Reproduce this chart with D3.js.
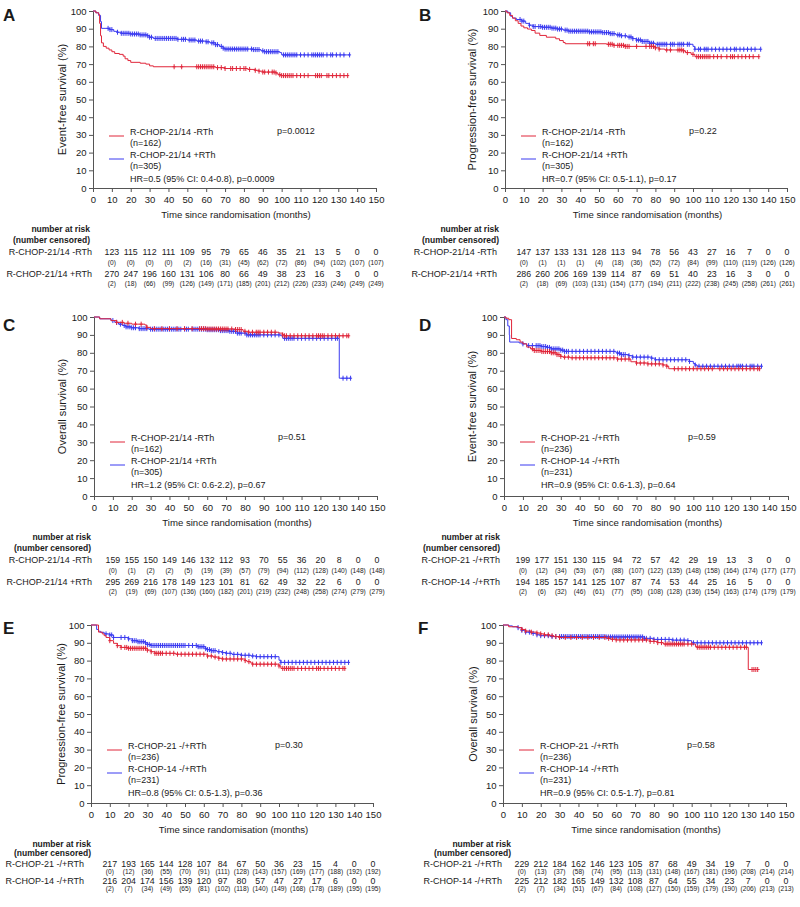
<!DOCTYPE html>
<html><head><meta charset="utf-8">
<script src="https://cdn.jsdelivr.net/npm/d3@7"></script>
<style>
body{margin:0;background:#fff}
svg{display:block}
text{font-family:"Liberation Sans",Arial,sans-serif;fill:#1a1a1a}
</style>
</head><body>
<svg id="c" width="800" height="907"></svg>
<script>
// ---------------- DATA ----------------
const panelIds = ["A","B","C","D","E","F"];
const yTitles = ["Event-free survival (%)","Progression-free survival (%)","Overall survival (%)","Event-free survival (%)","Progression-free survival (%)","Overall survival (%)"];
const xTitle = "Time since randomisation (months)";
const xTicks = [0,10,20,30,40,50,60,70,80,90,100,110,120,130,140,150];
const yTicks = [0,10,20,30,40,50,60,70,80,90,100];
const riskTimes = [10,20,30,40,50,60,70,80,90,100,110,120,130,140,150];
const riskHeader = ["number at risk","(number censored)"];
const groupsRTh = ["R-CHOP-21/14 -RTh","R-CHOP-21/14 +RTh"];
const groupsSched = ["R-CHOP-21 -/+RTh","R-CHOP-14 -/+RTh"];
const nRTh = ["(n=162)","(n=305)"];
const nSched = ["(n=236)","(n=231)"];
const pTexts = ["p=0.0012","p=0.22","p=0.51","p=0.59","p=0.30","p=0.58"];
const hrTexts = ["HR=0.5 (95% CI: 0.4-0.8), p=0.0009","HR=0.7 (95% CI: 0.5-1.1), p=0.17","HR=1.2 (95% CI: 0.6-2.2), p=0.67","HR=0.9 (95% CI: 0.6-1.3), p=0.64","HR=0.8 (95% CI: 0.5-1.3), p=0.36","HR=0.9 (95% CI: 0.5-1.7), p=0.81"];

// Kaplan-Meier step curves [time, survival%]
const aRedSurv = [[0,100],[1.5,99],[3,98],[3.5,93],[4,86],[4.5,82],[5.5,80],[7,79],[8.5,78],[10,77],[11.5,76],[14,75.5],[16,74.5],[17,73],[18.5,72],[20,71],[25,70.5],[28,70],[30,69],[32,68.5],[65,68],[70,67.5],[82,67],[86,66.5],[88,66],[90,65.5],[97,65],[98,64],[100,63.5],[135,63.5]];
const aBlueSurv = [[0,100],[1.5,99],[3,97.5],[4,94],[4.5,90.2],[9,89.5],[11,88.5],[13,88],[15,87.4],[20,87],[25,86.5],[29,86],[30,85.2],[32,84.5],[45,84],[50,83.6],[55,83],[60,82.6],[62,82],[65,81],[67,80],[69,79],[70,78.5],[85,78.2],[89,77.5],[91,77],[99,76.5],[100,75.2],[136,75.2]];
const bRedSurv = [[0,100],[1,99],[2.5,97.5],[4,96],[5.5,94.5],[7,93],[8.5,91.5],[10,90.5],[12,89.8],[14,89],[16,87.5],[18.5,86.2],[22,85.2],[27,84.3],[29,83.3],[31,82.2],[32,81.5],[54,81.2],[58,80.6],[64,80],[80,79.2],[82,78.5],[85,78],[95,77.5],[96,76.5],[99,75.5],[101,74.2],[135,74.2]];
const bBlueSurv = [[0,100],[1.5,99],[3,97],[4,96],[6,95.2],[9,94.3],[11,93],[13,92],[15,91.2],[20,90.8],[25,90.3],[28,89.8],[31,89.2],[34,88.6],[45,88.2],[52,87.8],[56,87.2],[59,86.5],[62,86],[65,85.3],[68,84.4],[70,83.6],[73,82.8],[77,81.8],[80,81.2],[100,80],[101,78.4],[136,78.4]];
const cRedSurv = [[0,100],[3,99],[9,98],[12,97],[16,96.5],[20,96],[27,95.5],[28,94.2],[30,93.5],[60,93.3],[75,93],[79,92],[82,91.5],[98,91],[100,90],[101,89.5],[135,89.5]];
const cBlueSurv = [[0,100],[3,99],[9,98],[11,97],[13,96],[15,95.3],[17,94.5],[20,94],[24,93.5],[29,93.2],[60,92.9],[67,92.4],[72,92],[76,91],[81,90],[99,89.5],[100,88.1],[130,65.8],[136,65.8]];
const dRedSurv = [[0,100],[1,99.3],[2.5,98.5],[4,88],[6.5,87.3],[8.5,86],[10,85],[12,83.2],[14,82.2],[16,81.3],[20,80.7],[25,80],[28,79],[30,78],[31,77.6],[35,77.2],[60,76.5],[67,75],[70,74.3],[76,73.8],[84,73.2],[86,72.5],[87,71.1],[135,71.1]];
const dBlueSurv = [[0,100],[1,98.5],[2,95],[2.8,90],[3,86],[8,85.5],[10,85],[12,84],[20,83.5],[23,83],[25,82.2],[30,81.5],[32,80.8],[59,80.3],[60,79.8],[62,79],[66,78.4],[68,77.6],[78,77],[80,76.1],[98,75.2],[100,74],[101,73.2],[102,72.5],[136,72.5]];
const eRedSurv = [[0,100],[4,96],[6,95],[7,94],[8,93],[10,91.2],[12,89.7],[14,88.4],[16,87.4],[20,86.9],[30,85.9],[32,85],[34,84.1],[45,83.6],[62,82.6],[65,82],[68,81.3],[70,80.9],[82,80],[83,79.4],[85,78.6],[86,78],[100,77],[101,75.6],[135,75.6]];
const eBlueSurv = [[0,100],[3,97.5],[4,96.5],[5,95.9],[7,95],[10,94.4],[12,93],[20,92.2],[22,91.2],[25,90.6],[29,90],[30,89.1],[32,88.5],[57,87.8],[61,86.7],[62,86.2],[64,85.6],[67,85],[70,84.5],[72,84.1],[75,83.5],[80,83],[85,82.6],[88,82.2],[100,80.2],[101,79],[137,79]];
const fRedSurv = [[0,100],[3,99],[8,98.5],[10,97.5],[12,96.6],[15,96],[18,95.5],[20,95],[22,94.5],[25,94],[27,93.5],[30,93],[55,92.5],[57,92],[60,91.6],[78,90.8],[82,90.1],[85,89.3],[102,87.8],[103,87.5],[130,75],[136,75]];
const fBlueSurv = [[0,100],[3,99.5],[5,99],[8,98.5],[10,97],[12,96],[15,95.3],[18,94.5],[20,94],[25,93.5],[55,93.3],[75,92.5],[80,91.9],[90,91.5],[98,91.2],[100,90],[137,90]];

// censoring times (months)
const aRedCens = [43,47,55,56,57,58,59,60,61,62,63,64,66,68,70,73,74,76,78,80,81,83,86,88,90,91,93,95,96,97,99,100,101,102,103,104,105,106,108,110,112,114,118,119,120,121,124,125,127,129,131,133,135];
const aBlueCens = [8,9,10,13,15,16,17,18,19,20,21,22,23,24,25,26,27,28,29,30,31,33,34,35,36,37,38,39,40,41,42,43,44,45,47,48,49,51,52,53,54,56,57,58,60,61,63,64,65,66,68,69,70,71,72,73,74,75,76,77,78,79,80,81,82,84,85,86,87,88,90,91,92,93,94,95,96,97,98,101,102,103,104,105,106,107,108,110,112,114,116,117,118,119,120,121,122,124,126,127,129,131,133,136];
const bRedCens = [44,45,47,48,55,56,57,58,60,61,62,63,64,65,66,70,75,77,78,79,80,82,86,88,92,93,94,95,97,100,102,103,104,105,106,107,108,109,111,113,115,118,120,121,122,124,126,128,130,132,135];
const bBlueCens = [8,9,10,13,15,16,18,19,20,21,22,23,24,25,26,27,28,29,30,32,33,34,35,36,37,38,39,40,41,42,43,44,45,46,47,48,49,50,51,52,53,54,55,56,57,58,60,61,62,64,66,67,68,70,71,72,73,74,75,76,77,78,79,81,82,83,84,85,86,88,89,90,92,93,94,95,97,98,101,103,104,106,107,108,110,112,114,116,118,120,122,123,125,127,129,131,133,136];
const cRedCens = [12,15,18,22,25,28,32,36,40,44,48,52,56,57,58,59,60,61,62,63,64,65,66,67,68,69,70,71,73,75,76,77,78,80,82,84,86,87,88,90,92,94,96,100,101,102,104,106,108,110,112,114,116,118,119,120,121,122,124,126,128,130,132,134,135];
const cBlueCens = [10,12,14,16,17,18,19,20,21,22,24,25,26,27,28,30,31,32,33,34,35,36,37,38,39,40,41,42,43,44,45,46,48,49,50,52,53,54,55,56,57,58,59,60,61,62,63,64,65,66,67,68,69,70,71,72,73,74,75,76,77,78,80,81,82,83,84,85,86,87,88,90,92,94,96,98,101,102,103,104,105,106,108,110,112,114,116,118,120,122,124,126,128,129,132,134,136];
const dRedCens = [15,16,17,18,19,20,21,22,23,24,25,26,27,28,29,30,32,34,36,38,40,42,44,46,48,50,52,54,56,58,60,62,64,66,70,72,74,76,78,80,82,84,86,90,92,94,96,98,100,102,104,106,108,110,114,116,118,120,122,124,126,128,130,132,134,135];
const dBlueCens = [10,13,15,17,18,19,20,21,22,23,24,25,26,27,28,29,30,31,32,33,34,36,38,40,42,44,46,48,50,52,54,56,58,60,61,62,63,64,66,68,70,72,74,76,78,80,82,84,86,88,90,92,94,96,98,101,103,105,107,109,111,113,115,117,119,121,123,124,125,126,128,130,131,132,134,136];
const eRedCens = [10,14,16,18,19,20,21,22,23,24,25,26,27,28,29,30,32,34,35,36,37,38,40,42,44,46,48,50,52,54,56,58,60,62,64,66,68,70,72,74,76,78,80,82,84,86,88,90,92,94,96,98,100,102,103,104,105,106,107,108,110,112,114,116,118,120,121,122,124,126,128,130,132,134,135];
const eBlueCens = [8,10,11,12,16,18,20,22,23,24,25,26,27,28,29,30,31,32,33,34,35,36,37,38,39,40,41,42,43,44,45,46,47,48,49,50,52,54,56,57,58,59,60,61,62,63,64,65,66,68,70,72,74,76,78,80,82,84,86,88,90,92,94,96,98,101,103,105,107,109,111,113,115,117,119,121,123,125,127,129,131,133,135,137];
const fRedCens = [10,12,15,18,20,22,24,26,28,30,33,36,39,42,45,48,51,54,56,58,60,62,64,66,68,70,72,74,76,78,80,82,84,86,87,88,89,90,91,92,93,94,95,96,98,100,103,104,105,106,107,108,109,110,112,114,116,118,120,122,124,126,128,129,132,133,134,135];
const fBlueCens = [8,10,12,14,16,18,20,22,24,26,28,30,31,32,33,34,35,36,37,38,39,40,41,42,43,44,45,46,47,48,49,50,51,52,53,54,55,56,57,58,59,60,61,62,63,64,65,66,67,68,69,70,71,72,73,74,75,76,78,80,82,84,86,88,90,92,94,96,98,101,103,105,107,109,111,113,115,117,119,121,123,125,127,129,131,133,135,137];

// number at risk / number censored
const aRiskRed = [123,115,112,111,109,95,79,65,46,35,21,13,5,0,0];
const aCensRed = [0,0,0,0,2,16,31,45,62,72,86,94,102,107,107];
const aRiskBlue = [270,247,196,160,131,106,80,66,49,38,23,16,3,0,0];
const aCensBlue = [2,18,66,99,126,149,171,185,201,212,226,233,246,249,249];
const bRiskRed = [147,137,133,131,128,113,94,78,56,43,27,16,7,0,0];
const bCensRed = [0,1,1,1,4,18,36,52,72,84,99,110,119,126,126];
const bRiskBlue = [286,260,206,169,139,114,87,69,51,40,23,16,3,0,0];
const bCensBlue = [2,18,69,103,131,154,177,194,211,222,238,245,258,261,261];
const cRiskRed = [159,155,150,149,146,132,112,93,70,55,36,20,8,0,0];
const cCensRed = [0,1,2,2,5,19,39,57,79,94,112,128,140,148,148];
const cRiskBlue = [295,269,216,178,149,123,101,81,62,49,32,22,6,0,0];
const cCensBlue = [2,19,69,107,136,160,182,201,219,232,248,258,274,279,279];
const dRiskRed = [199,177,151,130,115,94,72,57,42,29,19,13,3,0,0];
const dCensRed = [0,12,34,53,67,88,107,122,135,148,158,164,174,177,177];
const dRiskBlue = [194,185,157,141,125,107,87,74,53,44,25,16,5,0,0];
const dCensBlue = [2,6,32,46,61,77,95,108,128,136,154,163,174,179,179];
const eRiskRed = [217,193,165,144,128,107,84,67,50,36,23,15,4,0,0];
const eCensRed = [0,12,36,55,70,91,111,128,143,157,169,177,188,192,192];
const eRiskBlue = [216,204,174,156,139,120,97,80,57,47,27,17,6,0,0];
const eCensBlue = [2,7,34,49,65,81,102,118,140,149,168,178,189,195,195];
const fRiskRed = [229,212,184,162,146,123,105,87,68,49,34,19,7,0,0];
const fCensRed = [0,13,37,58,74,95,113,131,148,167,181,196,208,214,214];
const fRiskBlue = [225,212,182,165,149,132,108,87,64,55,34,23,7,0,0];
const fCensBlue = [2,7,34,51,67,84,108,127,150,159,179,190,206,213,213];

// ---------------- DRAW ----------------
const RED = "#e0263a", BLUE = "#3b3bf0", AXIS = "#555";
const svg = d3.select("#c");

const panels = [
  {surv:[aRedSurv,aBlueSurv],cens:[aRedCens,aBlueCens],risk:[aRiskRed,aRiskBlue],rc:[aCensRed,aCensBlue],groups:groupsRTh,ns:nRTh},
  {surv:[bRedSurv,bBlueSurv],cens:[bRedCens,bBlueCens],risk:[bRiskRed,bRiskBlue],rc:[bCensRed,bCensBlue],groups:groupsRTh,ns:nRTh},
  {surv:[cRedSurv,cBlueSurv],cens:[cRedCens,cBlueCens],risk:[cRiskRed,cRiskBlue],rc:[cCensRed,cCensBlue],groups:groupsRTh,ns:nRTh},
  {surv:[dRedSurv,dBlueSurv],cens:[dRedCens,dBlueCens],risk:[dRiskRed,dRiskBlue],rc:[dCensRed,dCensBlue],groups:groupsSched,ns:nSched},
  {surv:[eRedSurv,eBlueSurv],cens:[eRedCens,eBlueCens],risk:[eRiskRed,eRiskBlue],rc:[eCensRed,eCensBlue],groups:groupsSched,ns:nSched},
  {surv:[fRedSurv,fBlueSurv],cens:[fRedCens,fBlueCens],risk:[fRiskRed,fRiskBlue],rc:[fCensRed,fCensBlue],groups:groupsSched,ns:nSched}
];

// layout (pixels)
const offAB = [41,52,64,74.5,86,96];
const offEF = [41,50,61,69,78,86];
const layout = [
  {x0:93, x1:376, y0:11, y1:188, lx:3,   ly:21,  tx:62,  hdrR:90,  rowR:92,  off:offAB},
  {x0:505,x1:787, y0:11, y1:188, lx:419, ly:21,  tx:472, hdrR:499, rowR:497, off:offAB},
  {x0:94, x1:377, y0:317,y1:496, lx:3,   ly:331, tx:62,  hdrR:91,  rowR:92,  off:offAB},
  {x0:504,x1:788, y0:317,y1:496, lx:419, ly:331, tx:472, hdrR:500, rowR:500, off:offAB},
  {x0:91, x1:373, y0:625,y1:803, lx:3,   ly:634, tx:61,  hdrR:91,  rowR:84,  off:offEF},
  {x0:503,x1:786, y0:625,y1:803, lx:418, ly:634, tx:473, hdrR:511, rowR:502, off:offEF}
];

function survAt(steps, t){
  let v = steps[0][1];
  for (const [tt,s] of steps){ if (tt <= t) v = s; else break; }
  return v;
}

panels.forEach((p,i)=>{
  const L = layout[i];
  const g = svg.append("g");
  const x = d3.scaleLinear().domain([0,150]).range([L.x0,L.x1]);
  const y = d3.scaleLinear().domain([0,100]).range([L.y1,L.y0]);

  // panel letter
  g.append("text").attr("x",L.lx).attr("y",L.ly).attr("font-size",17).attr("font-weight","bold").attr("fill","#000").text(panelIds[i]);

  // axes
  const xa = g.append("g").attr("transform",`translate(0,${L.y1})`)
    .call(d3.axisBottom(x).tickValues(xTicks).tickSize(4).tickPadding(4.5).tickFormat(d3.format("d")));
  const ya = g.append("g").attr("transform",`translate(${L.x0},0)`)
    .call(d3.axisLeft(y).tickValues(yTicks).tickSize(4).tickPadding(2.5).tickFormat(d3.format("d")));
  [xa,ya].forEach(a=>{
    a.select(".domain").attr("stroke",AXIS);
    a.selectAll(".tick line").attr("stroke",AXIS);
    a.selectAll(".tick text").attr("font-size",9.5).attr("fill","#1a1a1a").attr("font-family",'"Liberation Sans",Arial,sans-serif');
  });

  // y title
  g.append("text").attr("transform",`translate(${L.tx},${(L.y0+L.y1)/2}) rotate(-90)`)
    .attr("text-anchor","middle").attr("dy","0.35em").attr("font-size",11).text(yTitles[i]);
  // x title
  g.append("text").attr("x",(L.x0+L.x1)/2+1.5).attr("y",L.y1+27).attr("dy","0.35em")
    .attr("text-anchor","middle").attr("font-size",9.6).text(xTitle);

  // curves
  const colors = [RED,BLUE];
  const line = d3.line().x(d=>x(d[0])).y(d=>y(d[1])).curve(d3.curveStepAfter);
  [1,0].forEach(k=>{
    g.append("path").datum(p.surv[k]).attr("d",line).attr("fill","none")
      .attr("stroke",colors[k]).attr("stroke-width",1);
    const cg = g.append("g").attr("stroke",colors[k]).attr("stroke-width",1);
    p.cens[k].forEach(t=>{
      const cx = x(t), cy = y(survAt(p.surv[k],t));
      cg.append("line").attr("x1",cx).attr("x2",cx).attr("y1",cy-2.5).attr("y2",cy+2.5);
      cg.append("line").attr("x1",cx-1.5).attr("x2",cx+1.5).attr("y1",cy).attr("y2",cy);
    });
  });

  // legend
  const lgx = L.x0+37;
  const rows = [
    {yy:L.y0+121, t:p.groups[0]},{yy:L.y0+132, t:p.ns[0]},
    {yy:L.y0+144, t:p.groups[1]},{yy:L.y0+155, t:p.ns[1]},
    {yy:L.y0+168, t:hrTexts[i]}
  ];
  rows.forEach(r=>{
    g.append("text").attr("x",lgx).attr("y",r.yy).attr("dy","0.35em").attr("font-size",9).text(r.t);
  });
  g.append("line").attr("x1",L.x0+16).attr("x2",L.x0+31).attr("y1",L.y0+125).attr("y2",L.y0+125).attr("stroke",RED);
  g.append("line").attr("x1",L.x0+16).attr("x2",L.x0+31).attr("y1",L.y0+148).attr("y2",L.y0+148).attr("stroke",BLUE);
  g.append("text").attr("x",L.x0+184).attr("y",L.y0+120).attr("dy","0.35em").attr("font-size",9).text(pTexts[i]);

  // risk table
  const o = L.off;
  g.append("text").attr("x",L.hdrR).attr("y",L.y1+o[0]).attr("dy","0.35em").attr("text-anchor","end")
    .attr("font-size",8.5).attr("font-weight","bold").text(riskHeader[0]);
  g.append("text").attr("x",L.hdrR).attr("y",L.y1+o[1]).attr("dy","0.35em").attr("text-anchor","end")
    .attr("font-size",8.5).attr("font-weight","bold").text(riskHeader[1]);
  [0,1].forEach(k=>{
    const ry = L.y1 + o[2+2*k], cy = L.y1 + o[3+2*k];
    g.append("text").attr("x",L.rowR).attr("y",ry).attr("dy","0.35em").attr("text-anchor","end")
      .attr("font-size",9).text(p.groups[k]);
    riskTimes.forEach((t,j)=>{
      g.append("text").attr("x",x(t)).attr("y",ry).attr("dy","0.35em").attr("text-anchor","middle")
        .attr("font-size",8.8).text(p.risk[k][j]);
      g.append("text").attr("x",x(t)).attr("y",cy).attr("dy","0.35em").attr("text-anchor","middle")
        .attr("font-size",6.6).text("("+p.rc[k][j]+")");
    });
  });
});
</script>
</body></html>
